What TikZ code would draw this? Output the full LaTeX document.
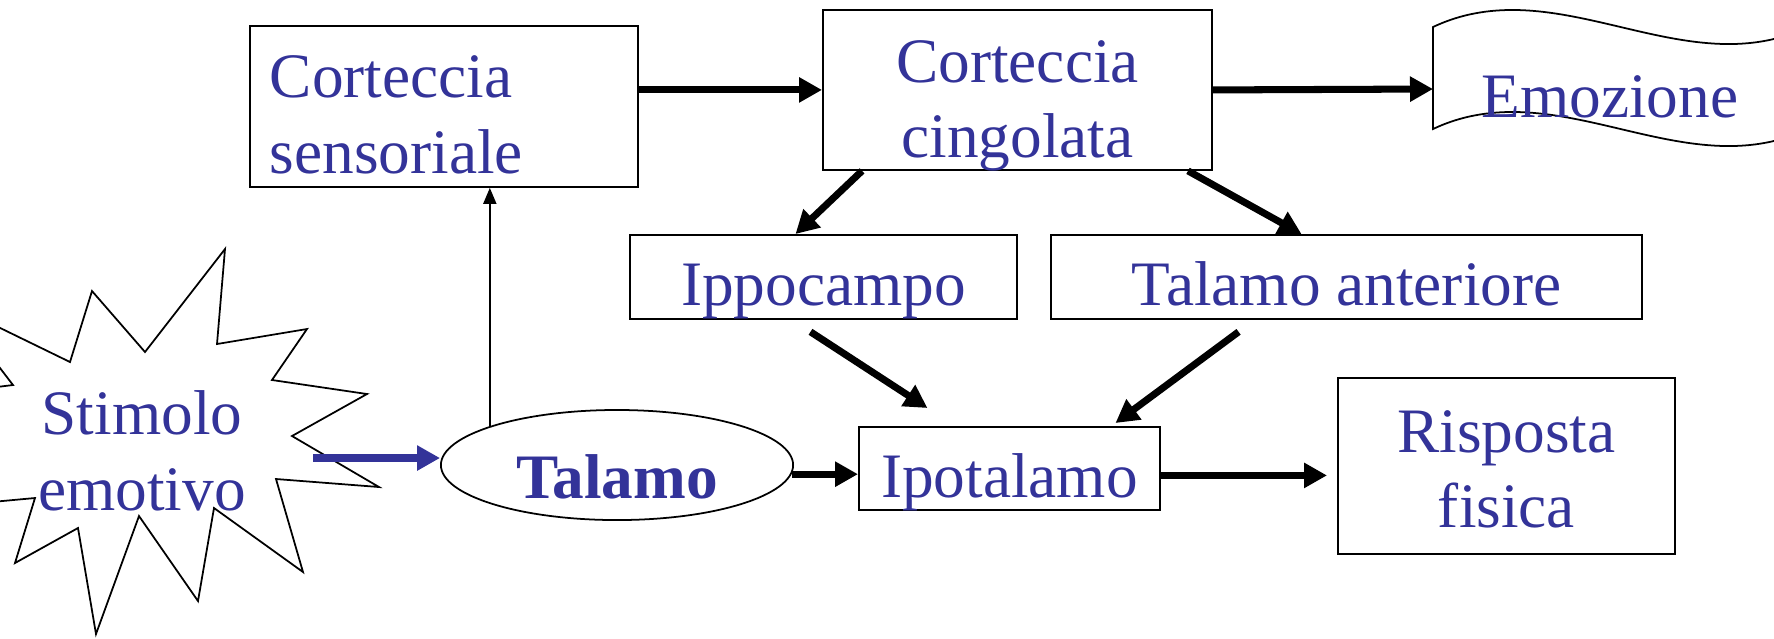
\documentclass[tikz,border=0pt]{standalone}
\usepackage{fontspec}
\setmainfont{Liberation Serif}
\usetikzlibrary{arrows.meta,shapes.geometric}
\definecolor{txtblue}{RGB}{51,51,153}
\newcommand\bigfont{\fontsize{18}{21.6}\selectfont}

\tikzset{
  box/.style={draw, line width=0.5pt, inner sep=0pt, text=txtblue, font=\bigfont, align=center},
  arr/.style={-{Triangle[length=0.23cm,width=0.24cm]}, line width=2pt},
  thinarr/.style={-{Triangle[length=0.16cm,width=0.13cm]}, line width=0.5pt},
}

\begin{document}
\begin{tikzpicture}[x=0.01cm, y=-0.01cm]
\useasboundingbox (0,0) rectangle (1774,638);

% stimolo (starburst)
\draw[line width=0.5pt] (-49,304) -- (70,362) -- (92,291) -- (145,352) -- (225,249) -- (217,344)
  -- (307,329) -- (272,380) -- (367,394) -- (292,436) -- (379,487) -- (276,479) -- (303,572)
  -- (214,508) -- (198,601) -- (139,516) -- (96,634) -- (78,528) -- (15,563) -- (35,498)
  -- (-150,515) -- (-100,460) -- (-150,405) -- (13,385) -- cycle;
\node[text=txtblue, font=\bigfont, align=center, anchor=base] (stim) at (142,510) {Stimolo\\emotivo};
\coordinate (stimout) at (313,458);

% boxes
\node[box, text width=3.48cm, align=left, inner xsep=0.2cm, text height=0.72cm, text depth=0.89cm, anchor=north west] (sens) at (249,25) {Corteccia\\sensoriale};
\node[box, minimum width=3.89cm, text height=1.48cm, text depth=0.12cm, anchor=north west] (cing) at (822,9) {Corteccia\\cingolata};
\node[box, minimum width=3.87cm, text height=0.71cm, text depth=0.13cm, anchor=north west] (ippo) at (629,234) {Ippocampo};
\node[box, minimum width=5.91cm, text height=0.71cm, text depth=0.13cm, anchor=north west] (tant) at (1050,234) {Talamo anteriore};
\node[box, minimum width=3.01cm, text height=0.71cm, text depth=0.12cm, anchor=north west] (ipot) at (858,426) {Ipotalamo};
\node[box, minimum width=3.37cm, text height=1.50cm, text depth=0.26cm, anchor=north west] (risp) at (1337,377) {Risposta\\fisica};
\node[draw, ellipse, line width=0.5pt, inner sep=0pt, minimum width=3.52cm, minimum height=1.10cm,
  text height=0.66cm, text depth=0cm, text=txtblue, font=\bigfont\bfseries] (tal) at (617,465) {Talamo};

% emozione (wave)
\draw[line width=0.5pt] (1433,27) .. controls (1558,-32) and (1683,86) .. (1808,27) -- (1808,129)
  .. controls (1683,188) and (1558,70) .. (1433,129) -- cycle;
\node[text=txtblue, font=\bigfont, anchor=base] (emo) at (1610,117) {Emozione};
\coordinate (emoin) at (1433,89);

% arrows
\draw[arr] (sens.east |- cing.west) -- (cing.west);
\draw[arr] (cing.east) -- (emoin);
\draw[arr] ([xshift=0.4cm]cing.south west) -- ([xshift=-0.28cm]ippo.north);
\draw[arr] ([xshift=-0.25cm]cing.south east) -- ([xshift=-0.45cm]tant.north);
\draw[arr] ([shift={(-13,12)}]ippo.south) -- ([shift={(-82,-18)}]ipot.north);
\draw[arr] ([shift={(-108,12)}]tant.south) -- ([shift={(106,-3)}]ipot.north);
\draw[thinarr] (tal.163.5) -- (tal.163.5 |- sens.south);
\draw[arr] (tal.-3) -- (tal.-3 -| ipot.west);
\coordinate (ipout) at ([yshift=-0.07cm]ipot.east);
\draw[arr, shorten >=0.1cm] (ipout) -- (ipout -| risp.west);
\draw[arr, txtblue, line width=2.3pt] (stimout) -- (stimout -| tal.west);
\end{tikzpicture}
\end{document}
